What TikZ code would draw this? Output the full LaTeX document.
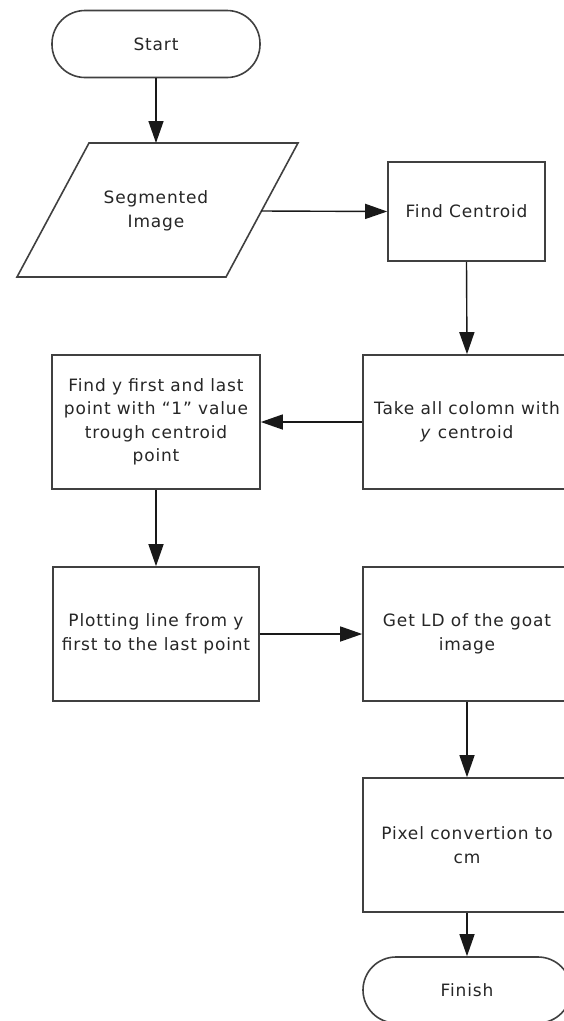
\documentclass[tikz,border=0pt]{standalone}
\usepackage{fontspec}
\setmainfont{DejaVu Sans}[LetterSpace=5]
\usetikzlibrary{arrows.meta}
\begin{document}
\begin{tikzpicture}[x=1pt,y=-1pt,
  txt/.style={font=\fontsize{17}{23.5}\selectfont, text=black!85, align=center, inner sep=0pt},
  box/.style={txt, draw=black!75, line width=1.6pt, fill=white, minimum width=208pt, minimum height=134pt},
  term/.style={box, rounded corners=33pt, minimum height=67pt},
  arr/.style={draw=black!90, line width=1.4pt, -{Triangle[length=22pt,width=15pt]}}
]
\useasboundingbox (0,0) rectangle (564,1021);

% Start
\node[term] (start) at (156,44) {Start};

% Segmented image (parallelogram)
\draw[draw=black!75, line width=1.6pt, fill=white] (89,143) -- (298,143) -- (226,277) -- (17,277) -- cycle;
\node[txt] (seg) at (156,211) {Segmented\\Image};
\coordinate (segT) at (156,143);
\coordinate (segR) at (261,211);

% Right / left column boxes
\node[box, minimum width=157pt, minimum height=99pt] (cent) at (466.5,211.5) {Find Centroid};
\node[box] (take) at (467,422) {Take all colomn with\\\textit{y} centroid};
\node[box] (findy) at (156,422) {Find y first and last\\point with “1” value\\trough centroid\\point};
\node[box, minimum width=206pt] (plot) at (156,634) {Plotting line from y\\first to the last point};
\node[box] (getld) at (467,634) {Get LD of the goat\\image};
\node[box] (pix) at (467,845) {Pixel convertion to\\cm};
\node[term, minimum height=66pt] (finish) at (467,990) {Finish};

% Connectors
\draw[arr] (start.south) -- (segT);
\draw[arr] (segR) -- (cent.west);
\draw[arr] (cent.south) -- (take.north);
\draw[arr] (take.west) -- (findy.east);
\draw[arr] (findy.south) -- (plot.north);
\draw[arr] (plot.east) -- (getld.west);
\draw[arr] (getld.south) -- (pix.north);
\draw[arr] (pix.south) -- (finish.north);
\end{tikzpicture}
\end{document}
